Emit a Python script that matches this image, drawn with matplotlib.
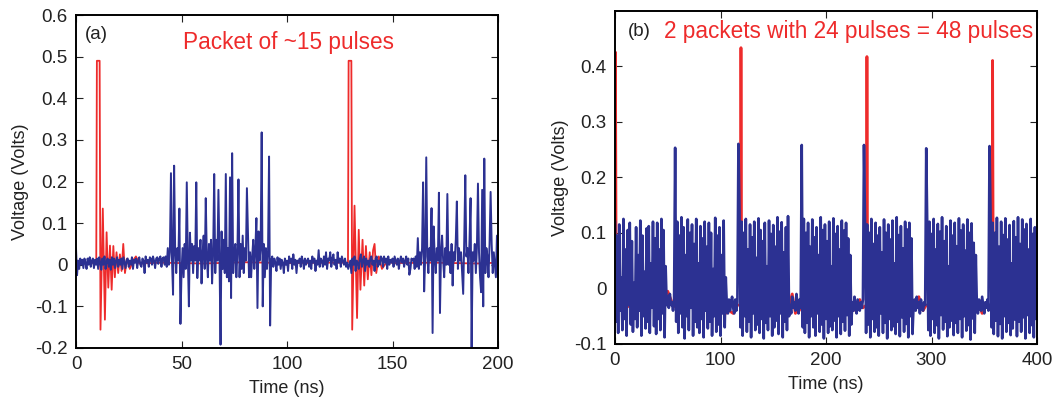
import numpy as np
import matplotlib
matplotlib.use('Agg')
import matplotlib.pyplot as plt

plt.rcParams['font.family'] = ['Liberation Sans', 'DejaVu Sans']

RED = '#ee2b2b'
BLUE = '#2c3192'

# ---- panel (a): blue trace, 0.5 ns steps, values in mV
t_a = np.arange(0, 200.5, 0.5)
blue_a_mv = [
    40, -25, 10, -10, 15, 0, 12, -8, 15, 5, -10, 15, 0, 18, -5, 10, 15, -8, 12, 0,
    15, -10, 18, 5, -12, 15, 0, 20, -10, 8, 15, -5, 12, -12, 18, 0, 15, -8, 10, 18,
    -5, 12, 0, 15, -10, 18, 5, -8, 12, 15, -5, 10, 0, 18, -10, 12, 5, 15, -8, 10,
    18, 0, -5, 15, 10, -20, 20, 5, 12, -5, 18, 15, 0, 20, 10, -8, 15, 18, 2, 15,
    20, -5, 15, 18, 0, 20, -5, 40, 0, 30, 220, 10, -72, 238, 30, -20, 40, 10, 135, -142,
    -20, 40, -30, 50, -10, 198, 20, -100, 77, 10, 50, -20, 45, 10, 198, -32, 40, 10, 60, -45,
    30, 70, -10, 160, 20, -30, 50, 10, 60, -45, 30, 218, -20, 60, 10, 180, 20, -192, 80, -10,
    60, -20, 218, -30, 40, -40, 210, -80, 268, -20, 30, 50, -30, 30, 205, -30, 50, -10, 70, -20,
    40, 10, 184, 80, -30, 30, -30, 20, 60, -10, 40, 112, -104, 80, 10, 40, 318, -100, 50, -30,
    40, -10, 30, 260, -146, 10, 20, -5, 15, 5, -15, 18, 0, 15, -10, 12, 5, -20, 15, 0,
    10, -15, 20, 5, 15, -10, 25, 0, 12, -20, 10, 5, 15, -5, 20, 10, -10, 15, 0, 10,
    15, -5, 10, -10, 20, 5, 15, -15, 10, 0, 35, -5, 15, 10, -5, 20, 0, 30, -10, 15,
    10, 30, -5, 15, 25, 0, 12, -10, 30, 5, 15, -5, 20, 10, 0, 15, -5, 5, -10, 0,
    10, -20, 15, 0, 20, -15, 10, 5, -10, 15, 25, -5, 10, 20, -15, 15, 0, 10, -5, 15,
    20, 0, 10, -15, 15, 20, -5, 10, 0, 20, 15, -5, 20, 5, 15, -10, 20, 0, 12, 5,
    15, -5, 20, 10, 0, 15, -10, 10, 20, 5, 15, -5, 10, 20, 0, 15, -24, -10, 15, 10,
    15, -10, 20, -5, 64, -10, 30, 0, 40, 198, -64, 20, 258, 20, -20, 40, 10, 136, -164, 92,
    20, -20, 40, 10, 173, -116, 30, 70, 10, -30, 40, 0, 170, 0, 30, -20, 50, -50, 30, 10,
    60, 152, -10, 40, 10, 30, -20, -70, 60, 215, 20, 40, -20, 60, 160, -200, 30, 10, 50, -20,
    40, 195, 30, -30, -66, 180, -100, 255, -20, 40, 20, -30, 50, 175, 50, -20, 30, 0, -30, 70,
    -30,
]

# ---- panel (a): red trace, breakpoints (ns, mV)
red_a_t = [0, 5, 9.6, 9.9, 11.2, 11.6, 12.7, 13.7, 14.5, 15.3, 16.1, 16.9, 17.7, 18.4,
           19.2, 20.0, 20.8, 21.6, 22.4, 23.2, 24.2, 25.5, 27, 28.4, 30, 40, 60, 80,
           100, 120, 128.9, 129.2, 130.5, 130.9, 132.0, 133.2, 134.0, 134.8, 135.8, 136.6,
           137.4, 138.3, 139.2, 140.0, 140.8, 141.5, 142.3, 143.5, 145, 147.7, 150, 170,
           190, 200]
red_a_mv = [5, 4, 5, 490, 490, -156, 135, -132, 78, -55, 46, -60, 45, -30,
            30, -20, 25, -15, 50, -20, 15, -10, 10, 20, 3, 5, 3, 6,
            4, 5, 5, 490, 490, -156, 142, -128, 84, -60, 60, -50,
            45, -35, 30, -25, 35, 50, -20, 20, -10, 10, 4, 5,
            3, 5]

# ---- panel (b): blue trace, 1 ns steps, mV
t_b = np.arange(0, 401, 1)
blue_b_mv = [
    120, -60, 95, -80, 115, -40, 20, -75, 125, -55, 70, -85, 105, -30, 118, -65, 85, -78, 10, -55,
    110, -70, 60, -40, 122, -85, 95, -50, 30, -72, 108, -60, 112, -80, 45, -35, 120, -68, 90, -82,
    118, -55, 70, -75, 125, -45, 105, -88, 40, -30, -15, -35, -10, -30, -25, -40, -20, 253, -60, 120,
    -80, 95, -45, 128, -70, 110, -90, 60, -50, 124, -75, 100, -35, 115, -85, 80, -60, 125, -70, 45,
    -80, 112, -55, 90, -88, 120, -40, 75, -72, 118, -60, 100, -85, 35, -50, 127, -78, 95, -65, 110,
    -85, 60, -45, 122, -70, 20, -30, -45, -20, -40, -25, -15, -35, -45, -20, -40, -25, 260, 140, -70,
    120, -85, 100, -50, 125, -78, 70, -60, 115, -88, 92, -45, 120, -75, 55, -65, 126, -80, 105, -55,
    85, -90, 118, -62, 40, -75, 122, -50, 98, -85, 114, -70, 75, -58, 128, -82, 102, -45, 119, -88,
    65, -60, 110, -75, 130, -50, -30, -45, -15, -35, -25, -40, -10, -30, -45, -20, -35, 258, -70, 125,
    -80, 100, -62, 118, -88, 75, -50, 124, -70, 92, -85, 110, -45, 60, -78, 128, -65, 105, -90, 115,
    -55, 85, -80, 120, -68, 40, -75, 126, -58, 98, -88, 112, -50, 70, -82, 122, -60, 104, -76, 118,
    -48, 90, -85, 60, -65, -25, -40, -15, -35, -45, -20, -30, -40, -25, -35, -20, 258, 120, -80, 115,
    -65, 100, -88, 125, -55, 80, -78, 118, -70, 95, -85, 110, -45, 65, -80, 124, -62, 100, -90, 115,
    -55, 88, -75, 122, -68, 45, -82, 128, -60, 96, -86, 112, -52, 72, -78, 120, -64, 106, -88, 118,
    -50, 90, -82, -30, -20, -40, -15, -35, -25, -45, -20, -35, -40, -25, -30, 252, 110, -75, 120, -85,
    98, -55, 125, -80, 70, -66, 116, -90, 102, -48, 128, -74, 85, -60, 112, -86, 40, -70, 122, -58,
    95, -84, 118, -62, 76, -80, 126, -55, 104, -88, 115, -50, 68, -76, 124, -66, 100, -92, 117, -54,
    82, -80, 60, -30, -45, -20, -35, -40, -15, -30, -45, -25, -35, -20, -40, 256, 130, -70, 118, -82,
    100, -58, 127, -86, 75, -64, 120, -90, 96, -50, 126, -78, 88, -62, 114, -84, 45, -72, 121, -56,
    92, -86, 128, -60, 80, -78, 124, -52, 106, -90, 116, -48, 70, -80, 125, -66, 98, -88, 110, -55,
    100,
]

# ---- panel (b): red trace, breakpoints (ns, mV)
red_b_t = [0, 0.4, 1.2, 10, 20, 30, 40, 47, 50, 52, 55, 58, 70, 90, 100, 105, 108, 112, 115,
           118.9, 119.4, 119.9, 120.4, 130, 150, 165, 168, 171, 174, 177, 190, 210, 225,
           228, 232, 235, 238.3, 238.8, 239.3, 239.8, 250, 270, 285, 288, 292, 295, 310,
           330, 345, 348, 352, 355, 357.4, 357.9, 358.4, 358.9, 370, 390, 398, 400]
red_b_mv = [120, 425, -40, -35, -25, -35, -30, -20, -5, -15, -30, -35, -30, -35, -30, -45, -40, -45, -30,
            -30, 433, 78, -40, -30, -35, -30, -10, -45, -25, -40, -30, -35, -30,
            -40, -20, -35, -30, 417, 78, -40, -30, -35, -30, -15, -40, -30, -35,
            -30, -30, -45, -25, -35, -30, 410, 78, -40, -30, -35, -35, -40]

fig = plt.figure(figsize=(10.58, 4.01), dpi=100)
ax1 = fig.add_axes([76 / 1058, 1 - 348 / 401, 422 / 1058, 333 / 401])
ax2 = fig.add_axes([615 / 1058, 1 - 344 / 401, 422 / 1058, 333 / 401])

ax1.plot(red_a_t, np.array(red_a_mv) / 1000, color=RED, lw=1.3)
ax1.plot(t_a, np.array(blue_a_mv) / 1000, color=BLUE, lw=1.4)
ax2.plot(red_b_t, np.array(red_b_mv) / 1000, color=RED, lw=2.0)
ax2.plot(t_b, np.array(blue_b_mv) / 1000, color=BLUE, lw=1.9)

ax1.set_xlim(0, 200)
ax1.set_ylim(-0.2, 0.6)
ax1.set_xticks([0, 50, 100, 150, 200])
ax1.set_yticks([-0.2, -0.1, 0, 0.1, 0.2, 0.3, 0.4, 0.5, 0.6])
ax1.set_yticklabels(['-0.2', '-0.1', '0', '0.1', '0.2', '0.3', '0.4', '0.5', '0.6'])

ax2.set_xlim(0, 400)
ax2.set_ylim(-0.1, 0.499)
ax2.set_xticks([0, 100, 200, 300, 400])
ax2.set_yticks([-0.1, 0, 0.1, 0.2, 0.3, 0.4])
ax2.set_yticklabels(['-0.1', '0', '0.1', '0.2', '0.3', '0.4'])

for ax in (ax1, ax2):
    ax.tick_params(direction='in', length=5, width=0.8, top=True, right=True,
                   labelsize=13.5, colors='#222222', pad=6)
    for s in ax.spines.values():
        s.set_linewidth(1.4)
    ax.set_xlabel('Time (ns)', fontsize=13, labelpad=5, color='#222222')
    ax.set_ylabel('Voltage (Volts)', fontsize=13, labelpad=4, color='#222222')

ax1.text(0.02, 0.94, '(a)', transform=ax1.transAxes, fontsize=13.5, va='center', color='#222222')
ax1.text(0.254, 0.916, 'Packet of ~15 pulses', transform=ax1.transAxes, fontsize=16.3,
         va='center', color=RED)
ax2.text(0.031, 0.937, '(b)', transform=ax2.transAxes, fontsize=13.5, va='center', color='#222222')
ax2.text(0.116, 0.937, '2 packets with 24 pulses = 48 pulses', transform=ax2.transAxes,
         fontsize=16.3, va='center', color=RED)

fig.savefig('out.png', dpi=100)
